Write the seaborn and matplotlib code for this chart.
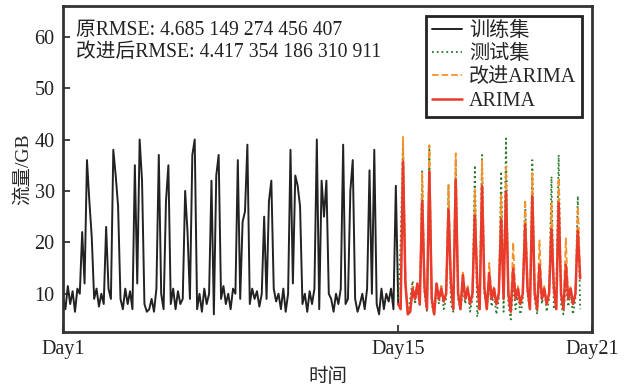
import numpy as np
import pandas as pd
import matplotlib
matplotlib.use("Agg")
import matplotlib.pyplot as plt
import seaborn as sns

# ---------------- data ----------------
train = [9.5, 7, 11.5, 8, 10.5, 6.5, 11, 10, 22, 12,
         36, 28, 21, 9, 11, 7.5, 10, 8, 23, 11,
         9, 38, 33, 27, 9, 7, 11, 8, 10.5, 7,
         35, 12, 40, 32, 8, 6.5, 7, 9, 6.5, 11,
         37, 10, 7, 28, 35, 8, 11, 7, 10.5, 8,
         9, 30, 22, 9, 37, 40, 7, 10, 6.5, 11,
         8, 10, 32, 6, 33, 37, 9, 11.5, 8, 10,
         7, 11, 10, 36, 9, 24, 26, 39, 8, 11,
         9, 10.5, 7.5, 10, 25, 9, 28, 32, 11, 8.5,
         10, 7, 11, 6.5, 10, 38, 12, 33, 31, 27,
         8, 10, 6.5, 10.5, 8, 11, 40, 7, 32, 25,
         32, 10, 9, 6.5, 10, 8, 11, 39, 8, 9,
         30, 36, 9, 6.5, 8, 10, 7, 11, 34, 10,
         38, 8, 6, 11, 7, 10, 8.5, 11, 7, 31,
         8]

test = [9, 20, 39.5, 12, 6, 9, 12.5, 8, 11, 7.5,
        33.8, 10, 6.5, 38, 8, 6, 11, 8, 11.5, 7,
        9, 31, 8, 6.5, 36, 9, 7, 11, 8, 11.5,
        6.5, 9, 35, 5.5, 9, 37, 10, 7, 11.5, 7.5,
        10, 6, 9, 33.8, 6.5, 40.2, 8, 5, 12, 7,
        10, 6, 8.5, 28, 10, 7, 36, 9, 6, 14,
        8, 11, 6.5, 9, 32.8, 7, 10, 37, 8, 6,
        12, 7.5, 10, 6, 9, 29, 7]

arima = [8, 7, 35.7, 12, 6, 6.5, 11, 9, 12, 8,
         28, 11, 7, 33.8, 9, 6, 12, 9, 11, 8.5,
         10, 26.4, 12, 7, 32.2, 10, 7, 13.6, 9, 11,
         8, 10, 25.2, 12, 7, 31, 11, 7, 14, 9,
         11, 8, 10, 24.5, 9, 29.9, 10, 6.5, 14.9, 9,
         11, 8, 10, 23.5, 11, 7, 29, 10, 7, 15.6,
         9, 11, 8, 10, 22.6, 11, 7, 27.7, 10, 7,
         15.6, 9, 11, 8, 10, 22.2, 13]

improved = [8, 7.5, 40.5, 12.5, 6, 7, 11.5, 9, 12, 8.5,
            33.5, 11.5, 7, 38.9, 9.5, 6, 12, 9, 11.5, 8.5,
            10, 31.2, 12.5, 7, 37.3, 10.5, 7, 14.5, 9, 11.5,
            8, 10, 30.3, 12.5, 7, 36, 11.5, 7, 16, 9,
            11.5, 8, 10, 29.3, 9.5, 34.7, 10.5, 6.5, 20, 9,
            11.5, 8, 10, 28.3, 11.5, 7, 33.5, 10.5, 7, 20.4,
            9, 11.5, 8, 10, 27.7, 11.5, 7, 32.5, 10.5, 7,
            20.8, 9, 11.5, 8, 10, 27, 13.5]

tick_labels = ["Day1", "Day15", "Day21"]
series_labels = ["训练集", "测试集", "改进ARIMA", "ARIMA"]
rmse_text = ["原RMSE: 4.685 149 274 456 407",
             "改进后RMSE: 4.417 354 186 310 911"]

# ---------------- build tables ----------------
n_train = len(train)
t_train = np.arange(n_train)
t_test = np.arange(n_train - 1, n_train - 1 + len(test))
df_train = pd.DataFrame({"t": t_train, "v": train})
df_test = pd.DataFrame({"t": t_test, "v": test})
df_imp = pd.DataFrame({"t": t_test, "v": improved})
df_ari = pd.DataFrame({"t": t_test, "v": arima})

# ---------------- style ----------------
sns.set_theme(style="ticks")
plt.rcParams["font.family"] = ["Liberation Serif", "Noto Sans CJK SC"]
plt.rcParams["axes.unicode_minus"] = False

fig = plt.figure(figsize=(6.24, 3.89), dpi=100)
ax = fig.add_axes([0.101, 0.147, 0.848, 0.838])

sns.lineplot(data=df_train, x="t", y="v", ax=ax, color="#222222", lw=1.4,
             label=series_labels[0])
sns.lineplot(data=df_test, x="t", y="v", ax=ax, color="#2a7a2a", lw=1.3,
             linestyle=":", label=series_labels[1])
sns.lineplot(data=df_imp, x="t", y="v", ax=ax, color="#f7922b", lw=1.3,
             linestyle="--", label=series_labels[2])
sns.lineplot(data=df_ari, x="t", y="v", ax=ax, color="#ea3a2c", lw=1.8,
             label=series_labels[3])

ax.set_xlim(0, 221)
ax.set_ylim(2.6, 66)
ax.set_xticks([0, n_train - 1, 221])
ax.set_xticklabels(tick_labels)
ax.set_yticks([10, 20, 30, 40, 50, 60])
ax.tick_params(axis="both", direction="in", length=5, width=1.2,
               labelsize=14.5, colors="#222222", pad=6)
for sp in ax.spines.values():
    sp.set_linewidth(2)
    sp.set_color("#333333")

ax.set_xlabel("时间", fontsize=14, labelpad=6)
ax.set_ylabel("流量/GB", fontsize=14, labelpad=2)

ax.text(0.025, 0.955, rmse_text[0] + "\n" + rmse_text[1],
        transform=ax.transAxes, ha="left", va="top", fontsize=14.2,
        linespacing=1.25, color="#222222")

leg = ax.legend(loc="upper right", fontsize=14.5, frameon=True, fancybox=False,
                borderaxespad=0.5, handlelength=1.5, labelspacing=0.2,
                borderpad=0.3, handletextpad=0.35)
leg.get_frame().set_edgecolor("#222222")
leg.get_frame().set_linewidth(2)
leg.get_frame().set_alpha(1)

fig.savefig("out.png", dpi=100)
